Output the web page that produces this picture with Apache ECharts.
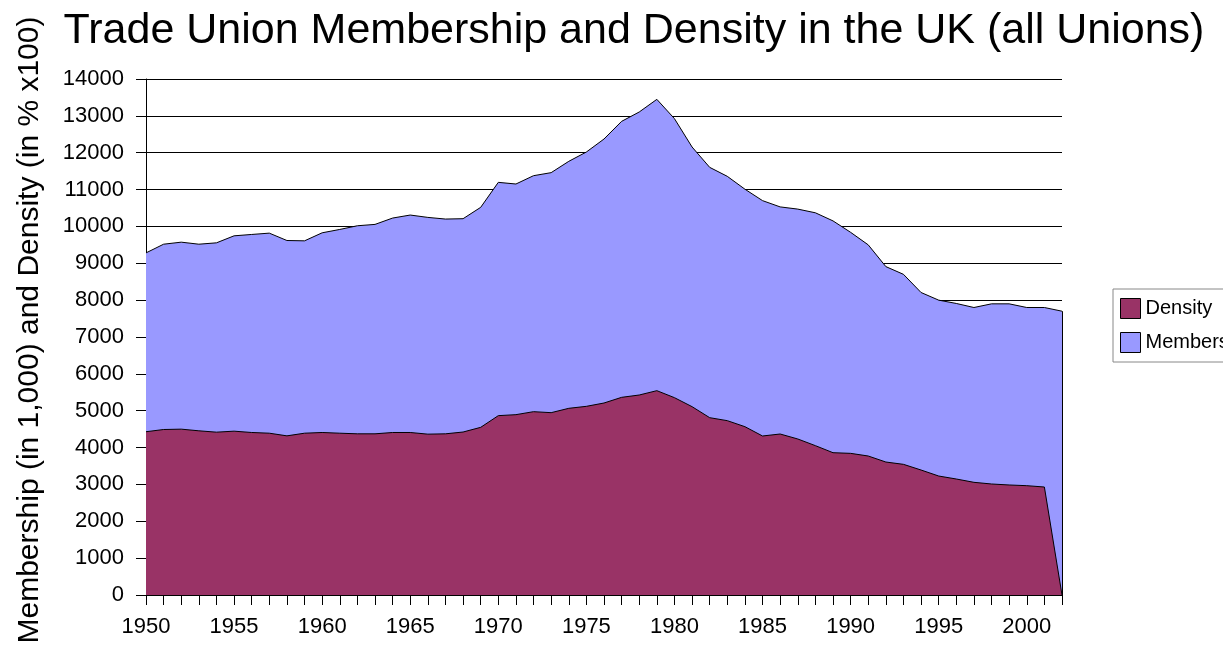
<!DOCTYPE html>
<html>
<head>
<meta charset="utf-8">
<script src="https://cdn.jsdelivr.net/npm/echarts@6/dist/echarts.min.js"></script>
<style>
  html, body { margin: 0; padding: 0; background: #fff; }
  #chart { width: 1223px; height: 648px; }
</style>
</head>
<body>
<div id="chart"></div>
<script>
// years 1950..2002
const years = []
for (let y = 1950; y <= 2002; y++) years.push(String(y))

// membership in thousands
const membership = [
  9282, 9518, 9573, 9518, 9555, 9745, 9782, 9818, 9618, 9609,
  9827, 9918, 10018, 10055, 10227, 10309, 10245, 10200, 10210, 10518,
  11196, 11151, 11377, 11459, 11766, 12019, 12372, 12851, 13105, 13448,
  12924, 12155, 11603, 11359, 11010, 10700, 10530, 10470, 10370, 10150,
  9840, 9500, 8910, 8700, 8207, 8000, 7910, 7800, 7900, 7900,
  7800, 7800, 7700
]

// density in % x100
const density = [
  4430, 4490, 4500, 4455, 4418, 4445, 4409, 4390, 4318, 4390,
  4409, 4390, 4373, 4373, 4409, 4409, 4364, 4373, 4422, 4549,
  4866, 4893, 4974, 4947, 5065, 5119, 5209, 5363, 5426, 5544,
  5354, 5110, 4811, 4730, 4567, 4314, 4368, 4233, 4052, 3861,
  3843, 3771, 3608, 3545, 3391, 3228, 3147, 3057, 3012, 2985,
  2966, 2930, 0
]

const font = 'Arial, "Liberation Sans", sans-serif'
const lastYear = years[years.length - 1]

const chart = echarts.init(document.getElementById('chart'))
chart.setOption({
  animation: false,
  backgroundColor: '#fff',
  textStyle: {fontFamily: font, color: '#000'},
  title: {
    text: 'Trade Union Membership and Density in the UK (all Unions)',
    left: 629,
    textAlign: 'center',
    top: 5,
    textStyle: {fontFamily: font, fontSize: 43, fontWeight: 'normal', color: '#000'}
  },
  legend: {
    orient: 'vertical',
    left: 1113,
    top: 289,
    data: ['Density', 'Membership'],
    icon: 'rect',
    itemWidth: 20,
    itemHeight: 20,
    itemGap: 13,
    padding: [9, 7],
    borderColor: '#888',
    borderWidth: 1,
    itemStyle: {borderColor: '#000', borderWidth: 1},
    textStyle: {fontFamily: font, fontSize: 20, color: '#000'}
  },
  grid: {left: 146, right: 161, top: 79, bottom: 53, containLabel: false, outerBoundsMode: 'none'},
  xAxis: {
    type: 'category',
    data: years,
    boundaryGap: false,
    axisLine: {lineStyle: {color: '#000', width: 1}},
    axisTick: {show: true, interval: 0, length: 10, lineStyle: {color: '#000'}},
    axisLabel: {interval: 4, fontSize: 22, color: '#000', margin: 21, fontFamily: font},
    splitLine: {show: false}
  },
  yAxis: {
    type: 'value',
    min: 0,
    max: 14000,
    interval: 1000,
    name: 'Membership (in 1,000) and Density (in % x100)',
    nameLocation: 'middle',
    nameRotate: 90,
    nameGap: 101,
    nameTextStyle: {fontFamily: font, fontSize: 30, color: '#000', padding: [0, 0, 0, 14]},
    axisLine: {show: true, lineStyle: {color: '#000', width: 1}},
    axisTick: {show: true, length: 10, lineStyle: {color: '#000'}},
    axisLabel: {
      fontSize: 22, color: '#000', margin: 22, fontFamily: font,
      formatter: v => String(v)
    },
    splitLine: {show: true, lineStyle: {color: '#000', width: 1}}
  },
  series: [
    {
      name: 'Membership',
      type: 'line',
      data: membership,
      showSymbol: false,
      color: '#9999FF',
      lineStyle: {color: '#000', width: 1},
      areaStyle: {color: '#9999FF', opacity: 1},
      z: 2,
      // closing edge of the area at the last year
      markLine: {
        silent: true,
        symbol: 'none',
        label: {show: false},
        lineStyle: {color: '#000', width: 1, type: 'solid'},
        data: [[
          {coord: [lastYear, 0]},
          {coord: [lastYear, membership[membership.length - 1]]}
        ]]
      }
    },
    {
      name: 'Density',
      type: 'line',
      data: density,
      showSymbol: false,
      color: '#993366',
      lineStyle: {color: '#000', width: 1},
      areaStyle: {color: '#993366', opacity: 1},
      z: 3
    }
  ]
})
</script>
</body>
</html>
